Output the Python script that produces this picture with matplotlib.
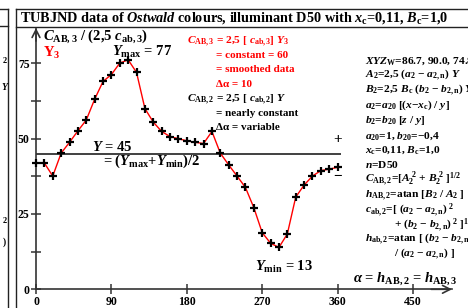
import matplotlib
matplotlib.use('Agg')
import matplotlib.pyplot as plt
from matplotlib.lines import Line2D

# ---------------- data ----------------
hue_deg = [0, 10, 20, 30, 40, 50, 60, 70, 80, 90, 100, 110, 120, 130, 140, 150, 160, 170, 180,
           190, 200, 210, 220, 230, 240, 250, 260, 270, 280, 290, 300, 310, 320, 330, 340, 350, 360]
y3_vals = [41.9, 41.9, 37.6, 45.2, 48.8, 52.6, 56.2, 63.1, 69.0, 71.3, 75.1, 76.2, 72.0, 60.0, 55.5,
           52.4, 50.7, 50.0, 49.3, 48.8, 48.4, 52.4, 45.2, 41.3, 37.6, 33.8, 27.1, 18.8, 15.3, 13.9,
           18.4, 30.6, 34.6, 37.6, 39.4, 39.9, 40.5]
x_ticks = [0, 90, 180, 270, 360, 450]
y_ticks = [0, 25, 50, 75]
y_minor = [12.5, 37.5, 62.5]
y_mid = 45
mid_line_end = 364

W, H = 468, 308
plt.rcParams.update({
    'font.family': 'Liberation Serif',
    'font.weight': 'bold',
    'mathtext.fontset': 'custom',
    'mathtext.rm': 'Liberation Serif:bold',
    'mathtext.it': 'Liberation Serif:italic:bold',
    'mathtext.bf': 'Liberation Serif:bold',
    'mathtext.sf': 'Liberation Serif:bold',
})

fig = plt.figure(figsize=(W / 100, H / 100), dpi=100)
fig.patch.set_facecolor('white')

AX_L, AX_B, AX_R, AX_T = 36, 289.3, 452, 28
ax = fig.add_axes([AX_L / W, 1 - AX_B / H, (AX_R - AX_L) / W, (AX_B - AX_T) / H])
ax.set_xlim(0, (AX_R - AX_L) / 0.8378)
ax.set_ylim(0, (AX_B - AX_T) / 3.012)
ax.patch.set_visible(False)
for s in ['top', 'right']:
    ax.spines[s].set_visible(False)
axc = '#333333'
for s in ['left', 'bottom']:
    ax.spines[s].set_color(axc)
    ax.spines[s].set_linewidth(1.2)
ax.set_xticks(x_ticks)
ax.set_yticks(y_ticks)
ax.set_yticks(y_minor, minor=True)
ax.tick_params(which='both', direction='inout', length=7, width=1.1, color=axc,
               labelsize=8.5)
ax.tick_params(axis='x', pad=1.5)
ax.tick_params(axis='y', pad=1)
for lab in ax.get_xticklabels() + ax.get_yticklabels():
    lab.set_fontweight('bold')

# axis arrows
ap = dict(arrowstyle='->,head_length=0.55,head_width=0.28', lw=1.2, color=axc,
          shrinkA=0, shrinkB=0)
ax.annotate('', xy=(1, 0), xytext=(0.95, 0), xycoords='axes fraction', arrowprops=ap,
            annotation_clip=False)
ax.annotate('', xy=(0, 1), xytext=(0, 0.95), xycoords='axes fraction', arrowprops=ap,
            annotation_clip=False)

# mid line
ax.hlines(y_mid, 0, mid_line_end, color='#404040', lw=1.4, clip_on=False)

# data curve
ax.plot(hue_deg, y3_vals, color='#ff0000', lw=1.0, clip_on=False, zorder=3)
ax.plot(hue_deg, y3_vals, ls='none', marker='+', ms=6, mew=1.6, color='black',
        clip_on=False, zorder=4)


def T(x, y, s, size=7.5, color='black', ha='left', va='baseline', **kw):
    fig.text(x / W, 1 - y / H, s, fontsize=size, color=color, ha=ha, va=va,
             fontweight='bold', **kw)


# frames
def L(x0, y0, x1, y1, lw=1.0):
    fig.add_artist(Line2D([x0 / W, x1 / W], [1 - y0 / H, 1 - y1 / H],
                          transform=fig.transFigure, color='#222222', lw=lw))


L(8, 9, 8, 308)
L(16, 9, 16, 308)
L(0, 9, 8, 9)
L(0, 26, 8, 26)
L(16, 9, 468, 9)
L(16, 26.7, 468, 26.7)

# left neighbour fragments
T(4.5, 63, '2', size=6, ha='center')
T(4.5, 90, 'Y', size=7, ha='center', style='italic')
T(4.5, 223, '2', size=6, ha='center')
T(4.5, 245, ')', size=7, ha='center')

# title
T(20, 22, r'TUBJND data of $Ostwald$ colours, illuminant D50 with $x_\mathrm{c}$=0,11, $B_\mathrm{c}$=1,0',
  size=10.3)

# axis label
T(43, 39.5, r'$C_\mathrm{AB,3}$ / (2,5 $c_\mathrm{ab,3}$)', size=10.5)
T(43, 56.5, r'Y$_\mathrm{3}$', size=10.5, color='#ff0000')
T(112, 55.7, r'$Y_\mathrm{max}$ = 77', size=10.5)
T(92, 151, r'$Y$ = 45', size=10.5)
T(103, 165, r'= ($Y_\mathrm{max}$+$Y_\mathrm{min}$)/2', size=10.5)
T(255, 270.7, r'$Y_\mathrm{min}$ = 13', size=10.5)
T(353, 281.7, r'$\alpha$ = $h_\mathrm{AB,2}$ = $h_\mathrm{AB,3}$', size=10.5)
T(338, 139, '+', size=11, ha='center', va='center')
T(338, 176, '\u2212', size=11, ha='center', va='center')

# red / black explanation block
red = '#ff0000'
bx, b0, bs = 216, 43.5, 14.5
T(bx - 1, b0, r'$C_\mathrm{AB,3}$', size=8.2, color=red, ha='right')
T(bx, b0, r'= 2,5 [ $c_\mathrm{ab,3}$] $Y_3$', size=8.2, color=red)
T(bx, b0 + bs, '= constant = 60', size=8, color=red)
T(bx, b0 + 2 * bs, '= smoothed data', size=8, color=red)
T(bx, b0 + 3 * bs, '\u0394\u03b1 = 10', size=8, color=red)
T(bx - 1, b0 + 4 * bs, r'$C_\mathrm{AB,2}$', size=8.2, ha='right')
T(bx, b0 + 4 * bs, r'= 2,5 [ $c_\mathrm{ab,2}$] $Y$', size=8.2)
T(bx, b0 + 5 * bs, '= nearly constant', size=8)
T(bx, b0 + 6 * bs, '\u0394\u03b1 = variable', size=8)

# right column
rx, r0, rs = 365, 63.5, 14.9
rlines = [
    (0, r'$XYZ_\mathrm{W}$=86.7, 90.0, 74.8'),
    (0, r'$A_2$=2,5 ($a_2$ $-$ $a_{2,\mathrm{n}}$) $Y$'),
    (0, r'$B_2$=2,5 $B_\mathrm{c}$ ($b_2$ $-$ $b_{2,\mathrm{n}}$) $Y$'),
    (0, r'$a_2$=$a_{20}$ [($x$$-$$x_\mathrm{c}$) / $y$]'),
    (0, r'$b_2$=$b_{20}$ [$z$ / $y$]'),
    (0, r'$a_{20}$=1, $b_{20}$=$-$0,4'),
    (0, r'$x_\mathrm{c}$=0,11, $B_\mathrm{c}$=1,0'),
    (0, r'$n$=D50'),
    (0, r'$C_\mathrm{AB,2}$=[$A_2^{\ 2}$ + $B_2^{\ 2}$ ]$^{1/2}$'),
    (0, r'$h_\mathrm{AB,2}$=atan [$B_2$ / $A_2$ ]'),
    (0, r'$c_\mathrm{ab,2}$=[ ($a_2$ $-$ $a_{2,\mathrm{n}}$)$^{\ 2}$'),
    (29, r'+ ($b_2$ $-$ $b_{2,\mathrm{n}}$)$^{\ 2}$ ]$^{1/2}$'),
    (0, r'$h_\mathrm{ab,2}$=atan [ ($b_2$ $-$ $b_{2,\mathrm{n}}$)'),
    (29, r'/ ($a_2$ $-$ $a_{2,\mathrm{n}}$) ]'),
]
for i, (dx, s) in enumerate(rlines):
    T(rx + dx, r0 + i * rs, s, size=8.2)

fig.savefig('out.png', dpi=100, facecolor='white')
